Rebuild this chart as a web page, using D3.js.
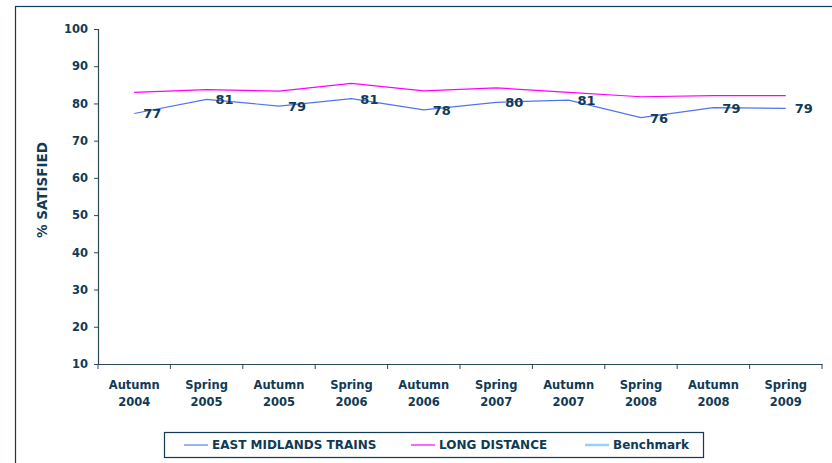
<!DOCTYPE html>
<html>
<head>
<meta charset="utf-8">
<script src="https://cdn.jsdelivr.net/npm/d3@7"></script>
<style>
body{margin:0;background:#fff;}
text{font-family:"DejaVu Sans",Verdana,sans-serif;font-weight:bold;fill:#113a55;}
</style>
</head>
<body>
<script>
//chart data
var categories = [['Autumn','2004'],['Spring','2005'],['Autumn','2005'],['Spring','2006'],['Autumn','2006'],
				['Spring','2007'],['Autumn','2007'],['Spring','2008'],['Autumn','2008'],['Spring','2009']];
var eastMidlands = [77.3, 81.1, 79.3, 81.3, 78.3, 80.3, 80.9, 76.2, 78.9, 78.7];
var eastMidlandsLabels = ['77','81','79','81','78','80','81','76','79','79'];
var longDistance = [83.0, 83.7, 83.3, 85.4, 83.4, 84.2, 83.0, 81.8, 82.1, 82.1];
var yTicks = [10,20,30,40,50,60,70,80,90,100];
var legendNames = ['EAST MIDLANDS TRAINS','LONG DISTANCE','Benchmark'];

//metrics
var chartW = 832, chartH = 463;
var plotL = 98, plotR = 822, plotT = 29, plotB = 364;
var navy = '#113a55', axisCol = '#2c4a5e';

var svg = d3.select('body').append('svg')
			.attr('width',chartW)
			.attr('height',chartH);

//outer frame
svg.append('rect')
	.attr('x',15.5).attr('y',6.5)
	.attr('width',chartW).attr('height',chartH)
	.attr('fill','none').attr('stroke',navy).attr('stroke-width',1.2);

var x = d3.scaleBand().domain(d3.range(categories.length)).range([plotL,plotR]);
var y = d3.scaleLinear().domain([10,100]).range([plotB,plotT]);

//y axis
var yAxis = svg.append('g')
	.attr('transform','translate('+plotL+',0)')
	.call(d3.axisLeft(y).tickValues(yTicks).tickSize(4).tickPadding(6));
yAxis.selectAll('text').style('font-size','11.5px');

//x axis
var xAxis = svg.append('g')
	.attr('transform','translate(0,'+plotB+')')
	.call(d3.axisBottom(x).tickFormat('').tickSize(0));
xAxis.selectAll('.tick').remove();
xAxis.selectAll('line.sep').data(d3.range(categories.length+1))
	.enter().append('line')
	.attr('x1',function(d){return plotL + d*x.bandwidth()})
	.attr('x2',function(d){return plotL + d*x.bandwidth()})
	.attr('y1',0).attr('y2',5)
	.attr('stroke',axisCol);
svg.selectAll('.domain').attr('stroke',axisCol).attr('stroke-width',1.2);
yAxis.selectAll('.tick line').attr('stroke',axisCol);

var xl = svg.selectAll('text.xlab').data(categories)
	.enter().append('text')
	.attr('class','xlab')
	.attr('text-anchor','middle')
	.style('font-size','11.5px')
	.attr('transform',function(d,i){return 'translate('+(x(i)+x.bandwidth()/2)+','+(plotB+25)+')'});
xl.append('tspan').attr('x',0).attr('y',0).text(function(d){return d[0]});
xl.append('tspan').attr('x',0).attr('y',17).text(function(d){return d[1]});

//y title
svg.append('text')
	.attr('transform','translate(46.5,190) rotate(-90)')
	.attr('text-anchor','middle')
	.style('font-size','13.5px')
	.text('% SATISFIED');

//lines
var line = d3.line()
	.x(function(d,i){return x(i)+x.bandwidth()/2})
	.y(function(d){return y(d)});

svg.append('path').datum(longDistance)
	.attr('d',line).attr('fill','none')
	.attr('stroke','#ff00ff').attr('stroke-width',1.2);
svg.append('path').datum(eastMidlands)
	.attr('d',line).attr('fill','none')
	.attr('stroke','#4f74ee').attr('stroke-width',1.2);

svg.selectAll('text.vlab').data(eastMidlands)
	.enter().append('text')
	.attr('class','vlab')
	.attr('x',function(d,i){return x(i)+x.bandwidth()/2+18})
	.attr('y',function(d){return y(d)+5})
	.attr('text-anchor','middle')
	.style('font-size','13px')
	.text(function(d,i){return eastMidlandsLabels[i]});

//legend
var legend = svg.append('g');
legend.append('rect')
	.attr('x',164.5).attr('y',432.5).attr('width',539).attr('height',25)
	.attr('fill','#fff').attr('stroke',navy).attr('stroke-width',1.2);
var legendColors = ['#7a9cf6','#ff33ff','#99ccff'];
var legendX = [184, 411, 585];
var items = legend.selectAll('g.item').data(legendNames)
	.enter().append('g')
	.attr('transform',function(d,i){return 'translate('+legendX[i]+',445)'});
items.append('line')
	.attr('x1',0).attr('x2',24).attr('y1',0).attr('y2',0)
	.attr('stroke',function(d,i){return legendColors[i]})
	.attr('stroke-width',function(d,i){return i==2 ? 2.5 : 1.5});
items.append('text')
	.attr('x',28).attr('y',4)
	.style('font-size','12px')
	.text(function(d){return d});
</script>
</body>
</html>
